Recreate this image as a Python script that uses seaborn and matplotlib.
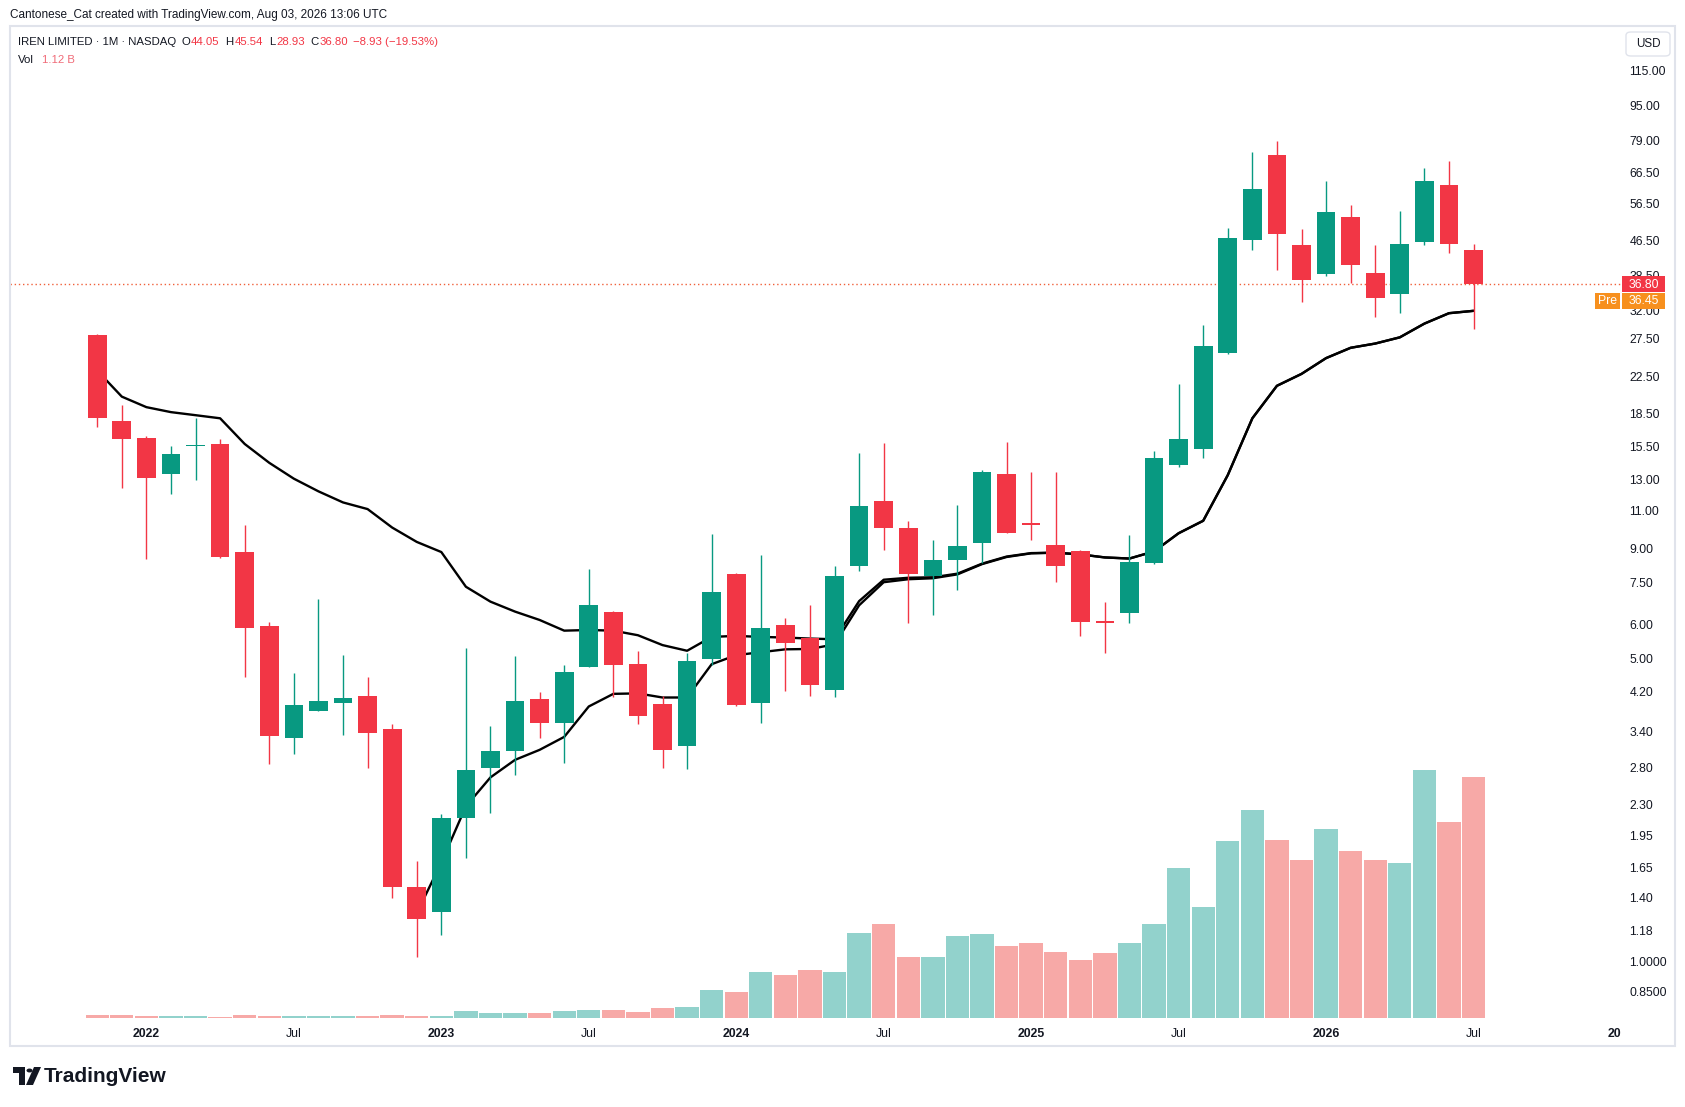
import numpy as np
import pandas as pd
import seaborn as sns
import matplotlib
matplotlib.use('Agg')
import matplotlib.pyplot as plt
from matplotlib.patches import Rectangle, FancyBboxPatch, Circle, Polygon
from matplotlib.transforms import Bbox, TransformedBbox

# IREN monthly candles, Nov 2021 .. Jul 2026
months = pd.date_range('2021-11-01', '2026-07-01', freq='MS')

opens = [28.05, 17.76, 16.2, 13.4, 15.5, 15.7, 8.83, 5.95, 3.28, 3.79, 3.95, 4.10,
         3.45, 1.48, 1.30, 2.14, 2.79, 3.06, 4.03, 3.56, 4.80, 6.40, 4.87, 3.94,
         3.15, 5.00, 7.86, 3.95, 5.99, 5.58, 4.23, 8.21, 11.59, 10.05, 7.77, 8.45,
         9.25, 13.40, 10.30, 9.15, 8.90, 6.13, 6.39, 8.35, 14.00, 15.26, 25.50, 46.60,
         73.20, 45.30, 38.80, 52.60, 39.00, 34.90, 46.10, 62.30, 44.05]
highs = [28.2, 19.3, 16.4, 15.5, 18.06, 16.1, 10.18, 6.07, 4.64, 6.88, 5.09, 4.55,
         3.54, 1.70, 2.19, 5.29, 3.49, 5.08, 4.20, 4.85, 8.07, 6.45, 5.20, 4.10,
         5.15, 9.72, 7.90, 8.69, 6.20, 6.66, 8.20, 14.94, 15.75, 10.40, 9.40, 11.35,
         13.70, 15.90, 13.55, 13.55, 8.95, 6.76, 9.67, 15.10, 21.60, 29.60, 49.50, 74.30,
         78.90, 49.20, 63.70, 55.90, 45.40, 54.40, 68.30, 70.90, 45.54]
lows = [17.15, 12.45, 8.49, 12.0, 12.96, 8.56, 4.54, 2.86, 3.02, 3.79, 3.34, 2.80,
        1.40, 1.02, 1.15, 1.73, 2.20, 2.69, 3.28, 2.87, 4.80, 4.08, 3.54, 2.80,
        2.78, 4.84, 3.90, 3.56, 4.21, 4.11, 4.08, 7.98, 8.93, 6.04, 6.31, 7.22,
        8.33, 9.75, 9.40, 7.52, 5.66, 5.15, 6.04, 8.30, 13.90, 14.60, 25.30, 44.10,
        39.60, 33.50, 38.30, 36.90, 30.90, 31.50, 45.30, 43.50, 28.93]
closes = [18.06, 16.08, 13.08, 14.9, 15.65, 8.59, 5.89, 3.32, 3.92, 3.99, 4.05, 3.37,
          1.486, 1.25, 2.14, 2.77, 3.06, 4.00, 3.56, 4.66, 6.66, 4.84, 3.69, 3.07,
          4.94, 7.13, 3.92, 5.88, 5.44, 4.34, 7.78, 11.28, 10.05, 7.86, 8.46, 9.12,
          13.50, 9.79, 10.20, 8.21, 6.07, 6.05, 8.36, 14.55, 16.10, 26.40, 47.00, 61.00,
          47.90, 37.60, 54.00, 40.70, 34.10, 45.50, 63.70, 45.60, 36.80]
# volume, billions of shares
volumes = [0.0137, 0.0137, 0.009, 0.009, 0.009, 0.0046, 0.0137, 0.009, 0.009, 0.009,
           0.009, 0.009, 0.0137, 0.009, 0.009, 0.032, 0.023, 0.023, 0.023, 0.032,
           0.036, 0.036, 0.027, 0.046, 0.050, 0.132, 0.123, 0.216, 0.202, 0.221,
           0.216, 0.394, 0.436, 0.282, 0.282, 0.380, 0.389, 0.333, 0.347, 0.305,
           0.268, 0.300, 0.347, 0.436, 0.697, 0.515, 0.823, 0.968, 0.828, 0.734,
           0.879, 0.776, 0.734, 0.720, 1.154, 0.913, 1.12]

# two moving lines drawn on the chart
line_a = [23.2, 20.2, 19.1, 18.6, 18.3, 18.0, 15.7, 14.2, 13.05, 12.2, 11.5, 11.1,
          10.06, 9.32, 8.83, 7.34, 6.78, 6.43, 6.15, 5.81, 5.83, 5.81, 5.67, 5.38,
          5.22, 5.62, 5.65, 5.62, 5.60, 5.57, 5.55, 6.80, 7.62, 7.70, 7.72, 7.87,
          8.30, 8.62, 8.78, 8.80, 8.72, 8.58, 8.53, 8.86, 9.76, 10.43, 13.3, 18.0,
          21.4, 22.8, 24.8, 26.2, 26.8, 27.7, 29.8, 31.5, 31.9]
line_b_start = 13
line_b = [1.29, 1.69, 2.28, 2.66, 2.92, 3.08, 3.30, 3.88, 4.15, 4.16, 4.07,
          4.07, 4.86, 5.10, 5.18, 5.26, 5.27, 5.40, 6.65, 7.52, 7.64, 7.68, 7.84,
          8.28, 8.60, 8.77, 8.80, 8.72, 8.58, 8.53, 8.86, 9.76, 10.43, 13.3, 18.0,
          21.4, 22.8, 24.8, 26.2, 26.8, 27.7, 29.8, 31.5, 31.9]

price_ticks = [115, 95, 79, 66.5, 56.5, 46.5, 38.5, 32, 27.5, 22.5, 18.5, 15.5, 13, 11,
               9, 7.5, 6, 5, 4.2, 3.4, 2.8, 2.3, 1.95, 1.65, 1.4, 1.18, 1.0, 0.85]
price_labels = ['115.00', '95.00', '79.00', '66.50', '56.50', '46.50', '38.50', '32.00',
                '27.50', '22.50', '18.50', '15.50', '13.00', '11.00', '9.00', '7.50',
                '6.00', '5.00', '4.20', '3.40', '2.80', '2.30', '1.95', '1.65', '1.40',
                '1.18', '1.0000', '0.8500']

last_price = 36.80
pre_price = 36.45

UP = '#089981'
DOWN = '#f23645'
VOL_UP = '#92d2cc'
VOL_DOWN = '#f7a9a7'
TXT = '#131722'

sns.set_theme(style="white")
plt.rcParams['font.family'] = ['Liberation Sans', 'DejaVu Sans']

W, H = 1685, 1107
fig = plt.figure(figsize=(W / 100, H / 100), dpi=100)
fig.patch.set_facecolor('white')


def fx(px):
    return px / W


def fy(py):
    return 1 - py / H


left, right, top, bottom = 10, 1621, 27, 1018
rect = [fx(left), fy(bottom), fx(right) - fx(left), fy(top) - fy(bottom)]
axv = fig.add_axes(rect)
ax = fig.add_axes(rect)
ax.patch.set_visible(False)

x = np.arange(len(months))
o = np.array(opens)
c = np.array(closes)
up = c >= o

# volume
axv.bar(x, volumes, width=0.95, color=np.where(up, VOL_UP, VOL_DOWN), linewidth=0)
axv.set_ylim(0, 1.12 * (bottom - top) / 241)
axv.set_xlim(-3.55, 62.0)
axv.axis('off')

# lines
df_a = pd.DataFrame({'x': x, 'v': line_a, 's': 'a'})
df_b = pd.DataFrame({'x': x[line_b_start:], 'v': line_b, 's': 'b'})
lines = pd.concat([df_a, df_b])
sns.lineplot(data=lines, x='x', y='v', hue='s', palette=['#000000', '#000000'],
             linewidth=1.7, legend=False, ax=ax, zorder=2, estimator=None)

# candles
cols = np.where(up, UP, DOWN)
ax.vlines(x, lows, highs, colors=cols, linewidth=1.0, zorder=3)
ax.bar(x, np.abs(c - o), bottom=np.minimum(o, c), width=0.76, color=cols,
       linewidth=0, zorder=4)

ax.axhline(last_price, color='#f0603a', linestyle=(0, (1, 2)), linewidth=1.0, zorder=1)

ax.set_yscale('log')
ax.set_ylim(0.7386, 144.6)
ax.set_xlim(-3.55, 62.0)
ax.yaxis.tick_right()
ax.set_yticks(price_ticks)
ax.set_yticklabels(price_labels)
ax.yaxis.set_minor_locator(matplotlib.ticker.NullLocator())
ax.tick_params(axis='y', length=0, pad=6, labelsize=8.8, labelcolor=TXT)
for lab in ax.get_yticklabels():
    lab.set_horizontalalignment('left')

# x ticks at Jan / Jul
xt, xl = [], []
for i, m in enumerate(months):
    if m.month == 1:
        xt.append(i)
        xl.append(str(m.year))
    elif m.month == 7:
        xt.append(i)
        xl.append('Jul')
ax.set_xticks(xt)
ax.set_xticklabels(xl)
ax.tick_params(axis='x', length=0, pad=7, labelsize=8.8, labelcolor=TXT)
for lab in ax.get_xticklabels():
    if lab.get_text() != 'Jul':
        lab.set_fontweight('bold')
ax.set_xlabel('')
ax.set_ylabel('')
for sp in ax.spines.values():
    sp.set_visible(False)
ax.grid(False)

# next year label, clipped by the price scale like the original
t = ax.text(62, -0.0098, '2027', transform=ax.get_xaxis_transform(), ha='center', va='top',
            fontsize=8.8, fontweight='bold', color=TXT, clip_on=True)
t.set_clip_box(TransformedBbox(Bbox([[0, 0], [fx(right), 1]]), fig.transFigure))

# panel border
fig.add_artist(Rectangle((fx(10), fy(1046)), fx(1675) - fx(10), fy(26) - fy(1046),
                         transform=fig.transFigure, fill=False, edgecolor='#e0e3eb',
                         linewidth=1.5))

# header texts
fig.text(fx(10), fy(15), 'Cantonese_Cat created with TradingView.com, Aug 03, 2026 13:06 UTC',
         fontsize=8.5, color=TXT, va='center')

renderer = fig.canvas.get_renderer()
pieces = [('IREN LIMITED · 1M · NASDAQ', TXT, 5), ('O', TXT, 1), ('44.05', DOWN, 6),
          ('H', TXT, 1), ('45.54', DOWN, 6), ('L', TXT, 1), ('28.93', DOWN, 6),
          ('C', TXT, 1), ('36.80', DOWN, 4), ('−8.93 (−19.53%)', DOWN, 0)]
px = 18
for s, col, gap in pieces:
    tx = fig.text(fx(px), fy(42), s, fontsize=8.2, color=col, va='center')
    px = tx.get_window_extent(renderer).x1 + gap
fig.text(fx(18), fy(60), 'Vol', fontsize=8.2, color=TXT, va='center')
fig.text(fx(42), fy(60), '1.12 B', fontsize=8.2, color='#f06b78', va='center')

# USD box
fig.add_artist(FancyBboxPatch((fx(1626), fy(56)), fx(1670) - fx(1626), fy(32) - fy(56),
                              boxstyle='round,pad=0,rounding_size=0.003',
                              transform=fig.transFigure, facecolor='white',
                              edgecolor='#e0e3eb', linewidth=1.0))
fig.text(fx(1648), fy(44), 'USD', fontsize=8.4, color=TXT, ha='center', va='center')

# last price and pre-market labels
fig.add_artist(Rectangle((fx(1622), fy(292)), fx(1665) - fx(1622), fy(276) - fy(292),
                         transform=fig.transFigure, facecolor=DOWN, edgecolor='none'))
fig.text(fx(1643.5), fy(284.5), f'{last_price:.2f}', fontsize=8.8, color='white',
         ha='center', va='center')
ORANGE = '#f7901e'
fig.add_artist(Rectangle((fx(1622), fy(309)), fx(1665) - fx(1622), fy(293) - fy(309),
                         transform=fig.transFigure, facecolor=ORANGE, edgecolor='none'))
fig.add_artist(Rectangle((fx(1595), fy(309)), fx(1620) - fx(1595), fy(293) - fy(309),
                         transform=fig.transFigure, facecolor=ORANGE, edgecolor='none'))
fig.text(fx(1643.5), fy(301.5), f'{pre_price:.2f}', fontsize=8.8, color='white',
         ha='center', va='center')
fig.text(fx(1607.5), fy(301.5), 'Pre', fontsize=8.8, color='white', ha='center', va='center')

# TradingView logo
fig.add_artist(Rectangle((fx(13), fy(1073)), fx(25) - fx(13), fy(1067) - fy(1073),
                         transform=fig.transFigure, facecolor=TXT, edgecolor='none'))
fig.add_artist(Rectangle((fx(19), fy(1085)), fx(25) - fx(19), fy(1067) - fy(1085),
                         transform=fig.transFigure, facecolor=TXT, edgecolor='none'))
fig.add_artist(Circle((fx(29.5), fy(1070.5)), fx(3), transform=fig.transFigure,
                      facecolor=TXT, edgecolor='none'))
fig.add_artist(Polygon([(fx(34), fy(1067)), (fx(41), fy(1067)), (fx(33), fy(1085)),
                        (fx(26), fy(1085))], closed=True, transform=fig.transFigure,
                       facecolor=TXT, edgecolor='none'))
fig.text(fx(44), fy(1076), 'TradingView', fontsize=15, fontweight='bold', color=TXT,
         va='center')

fig.savefig('out.png', dpi=100, facecolor='white')
